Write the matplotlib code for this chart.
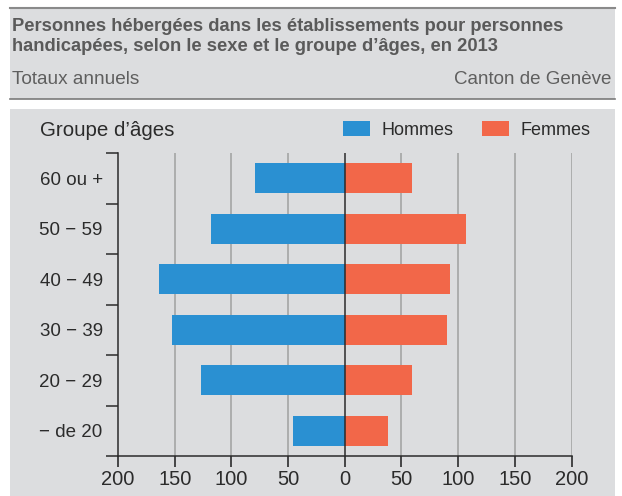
import matplotlib
matplotlib.use('Agg')
import matplotlib.pyplot as plt
from matplotlib.patches import Rectangle

plt.rcParams['font.family'] = ['Liberation Sans', 'DejaVu Sans']

groupes = ['\u2212 de 20', '20 \u2212 29', '30 \u2212 39', '40 \u2212 49', '50 \u2212 59', '60 ou +']
hommes = [46, 127, 152, 164, 118, 79]
femmes = [38, 59, 90, 93, 107, 59]
x_ticks = [-200, -150, -100, -50, 0, 50, 100, 150, 200]

W, H = 622, 496
bg = '#dcdddf'
blue = '#2a90d2'
orange = '#f26749'
dark = '#2b2b2b'


def fx(px):
    return px / W


def fy(py):
    return 1 - py / H


fig = plt.figure(figsize=(W / 100, H / 100), dpi=100, facecolor='white')

# header band
fig.patches.append(Rectangle((fx(10), fy(99)), fx(605), 91 / H, transform=fig.transFigure,
                             facecolor=bg, edgecolor='none', zorder=-2))
fig.add_artist(plt.Line2D([fx(10), fx(615)], [fy(8), fy(8)], color='#8a8a8a', lw=1.5))
fig.add_artist(plt.Line2D([fx(10), fx(615)], [fy(99), fy(99)], color='#7a7a7a', lw=1.2))
# chart panel
fig.patches.append(Rectangle((fx(10), 0), fx(605), fy(109), transform=fig.transFigure,
                             facecolor=bg, edgecolor='none', zorder=-2))

fig.text(fx(12), fy(36.5), 'Personnes hébergées dans les établissements pour personnes\n'
         'handicapées, selon le sexe et le groupe d\u2019âges, en 2013',
         fontsize=13.2, fontweight='bold', color='#5a5a5a', va='center', ha='left',
         linespacing=1.25)
fig.text(fx(12), fy(80), 'Totaux annuels', fontsize=13.7, color='#5f5f5f', va='center', ha='left')
fig.text(fx(611), fy(80), 'Canton de Genève', fontsize=13.5, color='#5f5f5f', va='center', ha='right')

ax = fig.add_axes([fx(118), fy(456), (571.5 - 118) / W, (456 - 153) / H])
ax.set_facecolor('none')
ax.set_zorder(2)

y = list(range(len(groupes)))
bh = ax.barh(y, [-v for v in hommes], height=0.59, color=blue, zorder=3, label='Hommes')
bf = ax.barh(y, femmes, height=0.59, color=orange, zorder=3, label='Femmes')

ax.set_xlim(-200, 200)
ax.set_ylim(-0.5, len(groupes) - 0.5)

for v in x_ticks:
    if v == 0:
        ax.axvline(0, color=dark, lw=1.1, zorder=4)
    elif v != -200:
        ax.axvline(v, color='#a9a9a9', lw=1.3, zorder=1)

ax.set_xticks(x_ticks)
ax.set_xticklabels([str(abs(v)) for v in x_ticks])
ax.tick_params(axis='x', direction='out', length=8, width=1.2, color=dark,
               labelsize=14.5, labelcolor=dark, pad=2)

ax.set_yticks([i - 0.5 for i in range(len(groupes) + 1)])
ax.set_yticklabels([])
ax.set_yticks(y, minor=True)
ax.set_yticklabels(groupes, minor=True)
ax.tick_params(axis='y', which='major', direction='out', length=8.5, width=1.1, color=dark)
ax.tick_params(axis='y', which='minor', length=0, labelsize=13.5, labelcolor=dark, pad=11)

for s in ['top', 'right']:
    ax.spines[s].set_visible(False)
ax.spines['left'].set_color(dark)
ax.spines['left'].set_linewidth(1.1)
ax.spines['bottom'].set_color(dark)
ax.spines['bottom'].set_linewidth(1.1)

fig.text(fx(40), fy(131), 'Groupe d\u2019âges', fontsize=14.8, color=dark, va='center', ha='left')
fig.legend(handles=[bh, bf], loc='center left', bbox_to_anchor=(fx(343), fy(130)),
           ncol=2, frameon=False, fontsize=13, handlelength=1.5, handleheight=0.9,
           handletextpad=0.65, columnspacing=1.55, borderpad=0, borderaxespad=0,
           labelcolor=dark)

fig.savefig('out.png', dpi=100, facecolor='white')
